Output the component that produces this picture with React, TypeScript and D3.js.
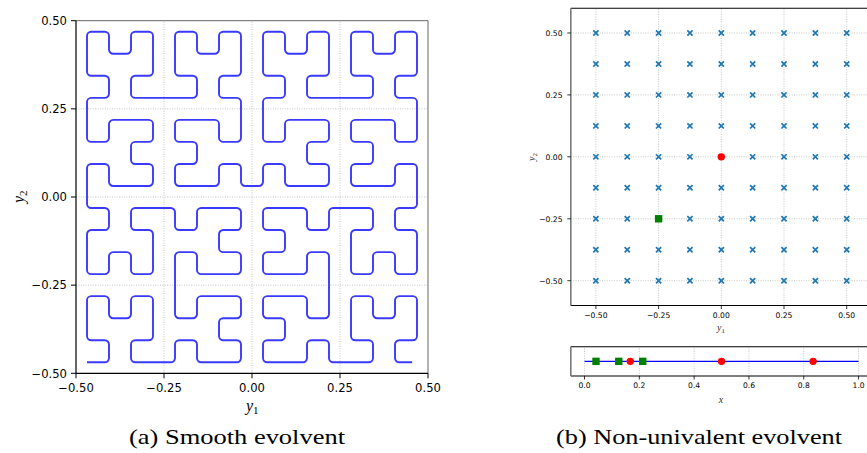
import React from "react";
import * as d3 from "d3";

// ---------- data ----------
// Hilbert-type path (order 4), read as a sequence of unit moves on a 16x16 lattice
const HILBERT_MOVES = [
  "RULUURDRURDDLDR", "R", "URDRRULURULLDLU", "U", "URDRRULURULLDLU", "L", "LDRDDLULDLUURUL",
  "U",
  "URDRRULURULLDLU", "U", "RULUURDRURDDLDR", "R", "RULUURDRURDDLDR", "D", "DLULLDRDLDRRURD",
  "R",
  "URDRRULURULLDLU", "U", "RULUURDRURDDLDR", "R", "RULUURDRURDDLDR", "D", "DLULLDRDLDRRURD",
  "D",
  "LDRDDLULDLUURUL", "L", "DLULLDRDLDRRURD", "D", "DLULLDRDLDRRURD", "R", "RULUURDRURDDLDR",
].join("");
const CURVE_START: [number, number] = [-0.46875, -0.46875];
const CURVE_STEP = 0.0625;
const CURVE_LAST_FRACTION = 0.78;

const LEFT_TICKS = [-0.5, -0.25, 0, 0.25, 0.5];
const LEFT_GRID = [-0.25, 0, 0.25];

const GRID_X = [-0.5, -0.375, -0.25, -0.125, 0, 0.125, 0.25, 0.375, 0.5];
const GRID_Y = [-0.5, -0.375, -0.25, -0.125, 0, 0.125, 0.25, 0.375, 0.5];
const RIGHT_TICKS = [-0.5, -0.25, 0, 0.25, 0.5];
const RED_PTS: [number, number][] = [[0, 0]];
const GREEN_PTS: [number, number][] = [[-0.25, -0.25]];

const LINE_RANGE = [0, 1];
const LINE_RED_X = [0.167, 0.5, 0.834];
const LINE_GREEN_X = [0.042, 0.125, 0.2125];
const LINE_TICKS = [0, 0.2, 0.4, 0.6, 0.8, 1.0];

const DIRS: Record<string, [number, number]> = { U: [0, 1], D: [0, -1], L: [-1, 0], R: [1, 0] };

const SANS = "DejaVu Sans, sans-serif";
const SERIF = "Liberation Serif, DejaVu Serif, serif";

export default function App() {
  // ---------- left panel ----------
  const lx = d3.scaleLinear().domain([-0.5, 0.5]).range([76, 428]);
  const ly = d3.scaleLinear().domain([-0.5, 0.5]).range([373.3, 20.7]);

  const pts: [number, number][] = [CURVE_START];
  for (let i = 0; i < HILBERT_MOVES.length; i++) {
    const [dx, dy] = DIRS[HILBERT_MOVES[i]];
    const f = i === HILBERT_MOVES.length - 1 ? CURVE_LAST_FRACTION : 1;
    const [px, py] = pts[pts.length - 1];
    pts.push([px + dx * CURVE_STEP * f, py + dy * CURVE_STEP * f]);
  }
  const pp = pts.map(([a, b]) => [lx(a), ly(b)] as [number, number]);
  const path = d3.path();
  const R = 4.2;
  path.moveTo(pp[0][0], pp[0][1]);
  for (let i = 1; i < pp.length - 1; i++) {
    const m0 = HILBERT_MOVES[i - 1];
    const m1 = HILBERT_MOVES[i];
    if (m0 !== m1) path.arcTo(pp[i][0], pp[i][1], pp[i + 1][0], pp[i + 1][1], R);
    else path.lineTo(pp[i][0], pp[i][1]);
  }
  path.lineTo(pp[pp.length - 1][0], pp[pp.length - 1][1]);

  const fmt2 = d3.format(".2f");
  const fmt1 = d3.format(".1f");

  // ---------- right main panel ----------
  const rx = d3.scaleLinear().domain([-0.6, 0.6]).range([570.8, 871.8]);
  const ry = d3.scaleLinear().domain([-0.6, 0.6]).range([305.5, 8.2]);
  const gridPts: [number, number][] = [];
  GRID_Y.forEach((yv) => GRID_X.forEach((xv) => gridPts.push([xv, yv])));

  // ---------- right line panel ----------
  const bx = d3.scaleLinear().domain([-0.05, 1.05]).range([570.8, 872.3]);
  const by = d3.scaleLinear().domain([-1, 1]).range([376, 346.7]);

  const gridStyle = { stroke: "#b8b8b8", strokeWidth: 0.8, strokeDasharray: "1,1.4" };

  return (
    <svg
      width={867}
      height={453}
      style={{ position: "absolute", left: 0, top: 0, background: "#fff" }}
    >
      <rect x={0} y={0} width={867} height={453} fill="#fff" />
      {/* ===== left panel ===== */}
      {LEFT_GRID.map((v) => (
        <g key={"lg" + v}>
          <line x1={lx(v)} x2={lx(v)} y1={ly(-0.5)} y2={ly(0.5)} {...gridStyle} />
          <line x1={lx(-0.5)} x2={lx(0.5)} y1={ly(v)} y2={ly(v)} {...gridStyle} />
        </g>
      ))}
      <path d={path.toString()} fill="none" stroke="#3a3aff" strokeWidth={1.9} />
      <line x1={lx(-0.5)} x2={lx(0.5)} y1={ly(0.5)} y2={ly(0.5)} stroke="#666" strokeWidth={1} />
      <line x1={lx(0.5)} x2={lx(0.5)} y1={ly(-0.5)} y2={ly(0.5)} stroke="#666" strokeWidth={1} />
      <line x1={lx(-0.5)} x2={lx(-0.5)} y1={ly(-0.5)} y2={ly(0.5)} stroke="#000" strokeWidth={1.2} />
      <line x1={lx(-0.5)} x2={lx(0.5)} y1={ly(-0.5)} y2={ly(-0.5)} stroke="#000" strokeWidth={1.2} />
      {LEFT_TICKS.map((v) => (
        <g key={"lt" + v}>
          <line x1={lx(v)} x2={lx(v)} y1={ly(-0.5)} y2={ly(-0.5) + 5} stroke="#000" strokeWidth={1} />
          <text x={lx(v)} y={392} fontSize={11.6} fontFamily={SANS} textAnchor="middle" fill="#000">
            {fmt2(v)}
          </text>
          <line x1={lx(-0.5) - 5} x2={lx(-0.5)} y1={ly(v)} y2={ly(v)} stroke="#000" strokeWidth={1} />
          <text x={67} y={ly(v) + 4.2} fontSize={11.6} fontFamily={SANS} textAnchor="end" fill="#000">
            {fmt2(v)}
          </text>
        </g>
      ))}
      <text x={246} y={411} fontSize={16} fontFamily={SERIF} fontStyle="italic" fill="#000">
        y<tspan fontStyle="normal" fontSize={11} dy={3}>1</tspan>
      </text>
      <text
        transform="translate(24,203) rotate(-90)"
        fontSize={16}
        fontFamily={SERIF}
        fontStyle="italic"
        fill="#000"
      >
        y<tspan fontStyle="normal" fontSize={11} dy={3}>2</tspan>
      </text>
      <text
        x={129}
        y={444}
        fontSize={21}
        fontFamily={SERIF}
        textLength={216}
        lengthAdjust="spacingAndGlyphs"
        fill="#000"
      >
        (a) Smooth evolvent
      </text>

      {/* ===== right main panel ===== */}
      {RIGHT_TICKS.map((v) => (
        <g key={"rg" + v}>
          <line x1={rx(v)} x2={rx(v)} y1={ry(-0.6)} y2={ry(0.6)} {...gridStyle} />
          <line x1={rx(-0.6)} x2={rx(0.6)} y1={ry(v)} y2={ry(v)} {...gridStyle} />
        </g>
      ))}
      {gridPts.map(([a, b], i) => {
        const cx = rx(a);
        const cy = ry(b);
        const s = 2.6;
        return (
          <path
            key={"x" + i}
            d={`M${cx - s},${cy - s}L${cx + s},${cy + s}M${cx - s},${cy + s}L${cx + s},${cy - s}`}
            stroke="#1f77b4"
            strokeWidth={1.7}
          />
        );
      })}
      {RED_PTS.map(([a, b], i) => (
        <circle key={"r" + i} cx={rx(a)} cy={ry(b)} r={3.7} fill="#ff0000" />
      ))}
      {GREEN_PTS.map(([a, b], i) => (
        <rect key={"g" + i} x={rx(a) - 3.7} y={ry(b) - 3.7} width={7.4} height={7.4} fill="#008000" />
      ))}
      <line x1={rx(-0.6)} x2={rx(0.6)} y1={ry(0.6)} y2={ry(0.6)} stroke="#000" strokeWidth={1.1} />
      <line x1={rx(-0.6)} x2={rx(0.6)} y1={ry(-0.6)} y2={ry(-0.6)} stroke="#000" strokeWidth={1.1} />
      <line x1={rx(-0.6)} x2={rx(-0.6)} y1={ry(-0.6)} y2={ry(0.6)} stroke="#777" strokeWidth={1.6} />
      {RIGHT_TICKS.map((v) => (
        <g key={"rt" + v}>
          <line x1={rx(v)} x2={rx(v)} y1={ry(-0.6)} y2={ry(-0.6) + 3.5} stroke="#000" strokeWidth={0.8} />
          <text x={rx(v)} y={318} fontSize={7.6} fontFamily={SANS} textAnchor="middle" fill="#000">
            {fmt2(v)}
          </text>
          <line x1={rx(-0.6) - 3.5} x2={rx(-0.6)} y1={ry(v)} y2={ry(v)} stroke="#000" strokeWidth={0.8} />
          <text x={562.5} y={ry(v) + 2.8} fontSize={7.6} fontFamily={SANS} textAnchor="end" fill="#000">
            {fmt2(v)}
          </text>
        </g>
      ))}
      <text x={717} y={331} fontSize={10} fontFamily={SERIF} fontStyle="italic" fill="#333">
        y<tspan fontStyle="normal" fontSize={7} dy={2}>1</tspan>
      </text>
      <text
        transform="translate(535,161) rotate(-90)"
        fontSize={10}
        fontFamily={SERIF}
        fontStyle="italic"
        fill="#333"
      >
        y<tspan fontStyle="normal" fontSize={7} dy={2}>2</tspan>
      </text>

      {/* ===== right line panel ===== */}
      {LINE_TICKS.map((v) => (
        <line key={"bg" + v} x1={bx(v)} x2={bx(v)} y1={by(-1)} y2={by(1)} {...gridStyle} />
      ))}
      <line
        x1={bx(LINE_RANGE[0])}
        x2={bx(LINE_RANGE[1])}
        y1={by(0)}
        y2={by(0)}
        stroke="#0000ff"
        strokeWidth={1.3}
      />
      {LINE_GREEN_X.map((v) => (
        <rect key={"bgx" + v} x={bx(v) - 3.7} y={by(0) - 3.7} width={7.4} height={7.4} fill="#008000" />
      ))}
      {LINE_RED_X.map((v) => (
        <circle key={"brx" + v} cx={bx(v)} cy={by(0)} r={3.7} fill="#ff0000" />
      ))}
      <line x1={bx(-0.05)} x2={bx(1.05)} y1={by(1)} y2={by(1)} stroke="#000" strokeWidth={1.1} />
      <line x1={bx(-0.05)} x2={bx(1.05)} y1={by(-1)} y2={by(-1)} stroke="#000" strokeWidth={1.1} />
      <line x1={bx(-0.05)} x2={bx(-0.05)} y1={by(-1)} y2={by(1)} stroke="#777" strokeWidth={1.6} />
      {LINE_TICKS.map((v) => (
        <g key={"bt" + v}>
          <line x1={bx(v)} x2={bx(v)} y1={by(-1)} y2={by(-1) + 3.5} stroke="#000" strokeWidth={0.8} />
          <text x={bx(v)} y={388} fontSize={7.6} fontFamily={SANS} textAnchor="middle" fill="#000">
            {fmt1(v)}
          </text>
        </g>
      ))}
      <text x={721} y={403} fontSize={10} fontFamily={SERIF} fontStyle="italic" fill="#333" textAnchor="middle">
        x
      </text>
      <text
        x={556}
        y={444}
        fontSize={21}
        fontFamily={SERIF}
        textLength={286}
        lengthAdjust="spacingAndGlyphs"
        fill="#000"
      >
        (b) Non-univalent evolvent
      </text>
    </svg>
  );
}
